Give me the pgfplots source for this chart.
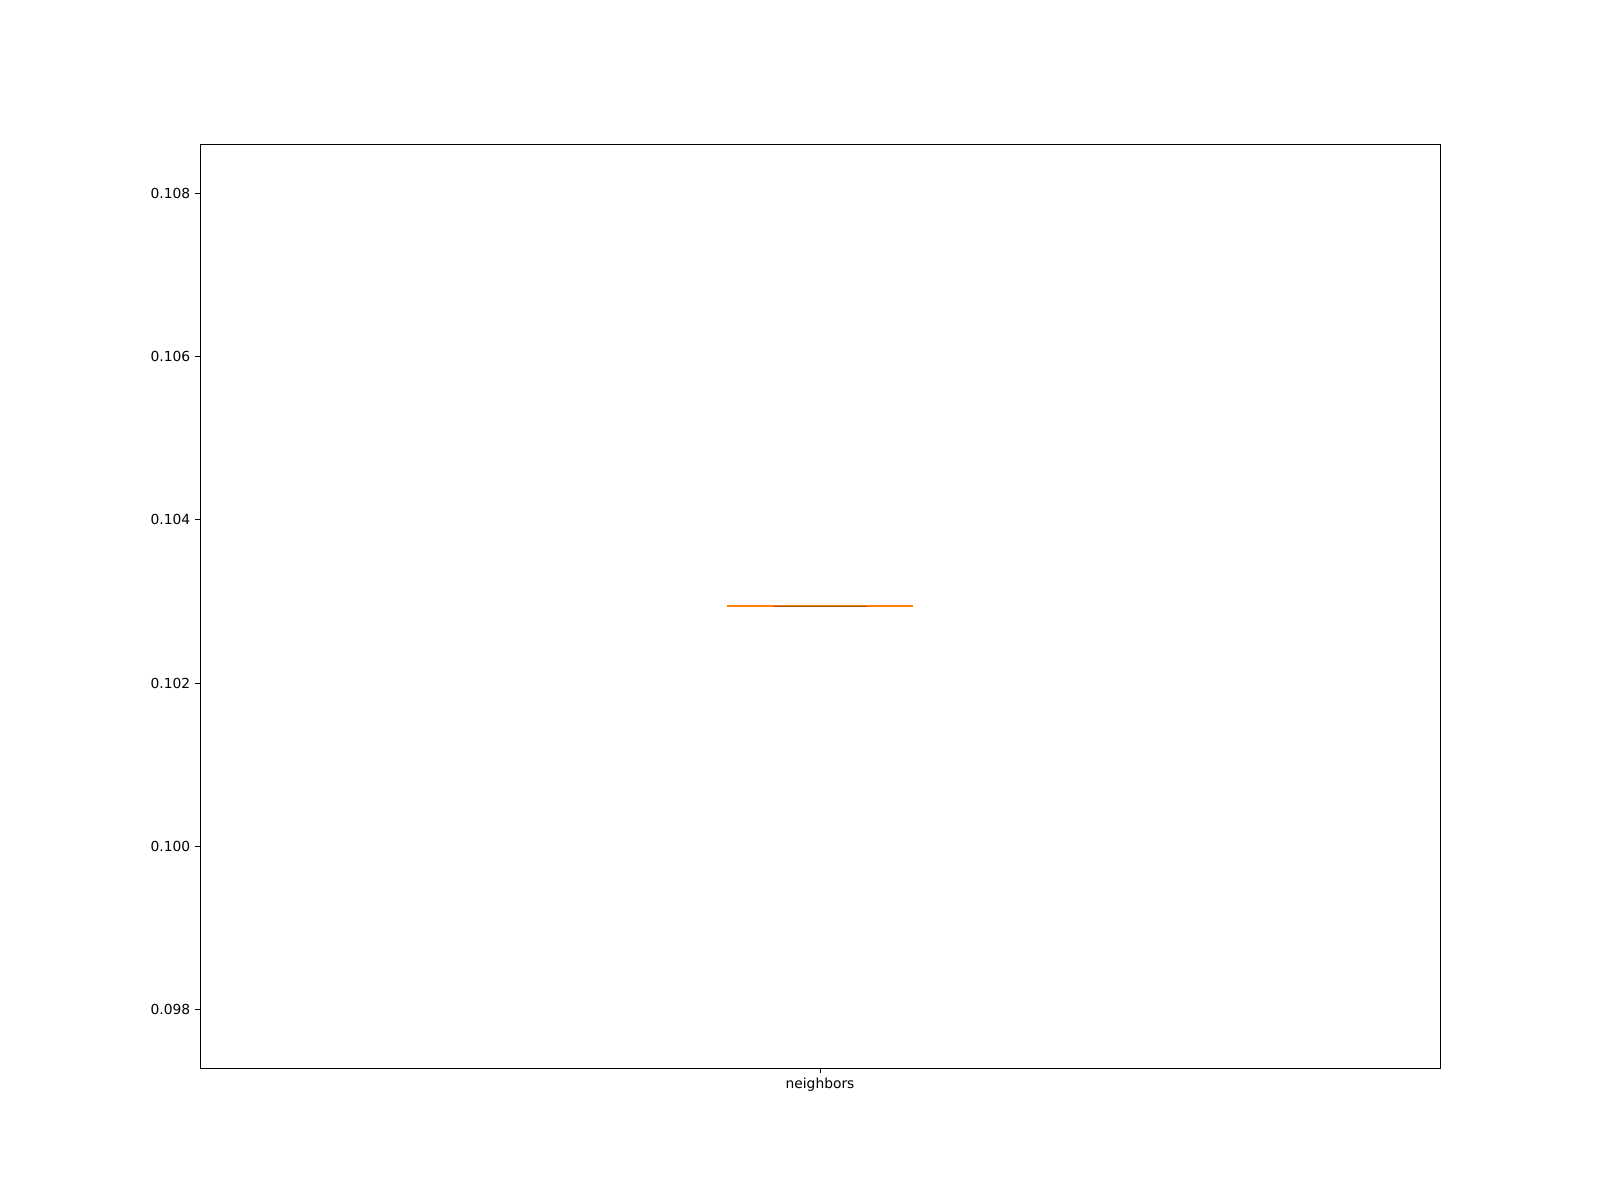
\documentclass[border=0pt]{standalone}
\usepackage{fontspec}
\setmainfont{DejaVu Sans}
\usepackage{pgfplots}
\pgfplotsset{compat=1.18}
\definecolor{mplorange}{HTML}{FF7F0E}
\begin{document}
\begin{tikzpicture}[x=1in,y=1in]
\path[use as bounding box] (0,0) rectangle (16,12);
\begin{axis}[
  at={(2in,1.32in)}, anchor=south west,
  width=12.4in, height=9.24in, scale only axis,
  xmin=0.5, xmax=1.5,
  ymin=0.097282, ymax=0.108606,
  xtick={1}, xticklabels={neighbors},
  ytick={0.098,0.100,0.102,0.104,0.106,0.108},
  yticklabel style={/pgf/number format/.cd,fixed,fixed zerofill,precision=3},
  /pgf/number format/assume math mode=true,
  tick align=outside, major tick length=3.5pt,
  tick style={black, line width=0.6pt},
  axis line style={line width=0.6pt},
  xtick pos=bottom, ytick pos=left,
  ticklabel style={font=\fontsize{10}{12}\selectfont},
  clip=false,
]
% box (zero height)
\addplot[black, line width=1pt] coordinates {(0.925,0.102944) (1.075,0.102944)};
% caps
\addplot[black, line width=1pt] coordinates {(0.9625,0.102944) (1.0375,0.102944)};
% median
\addplot[mplorange, line width=1.4pt] coordinates {(0.925,0.102944) (1.075,0.102944)};
\addplot[mplorange!65!black, line width=0.7pt] coordinates {(0.9625,0.102944) (1.0375,0.102944)};
\end{axis}
\end{tikzpicture}
\end{document}
